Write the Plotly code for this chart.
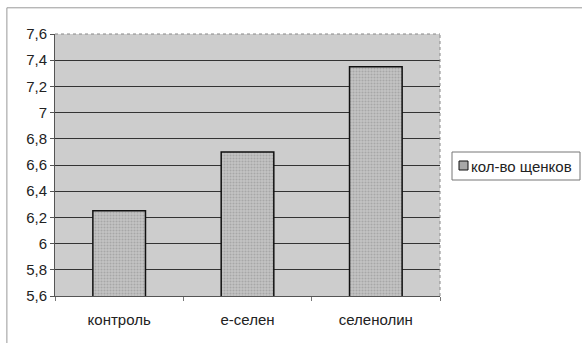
import plotly.graph_objects as go

categories = ["контроль", "е-селен", "селенолин"]
values = [6.25, 6.70, 7.35]
series_name = "кол-во щенков"

fig = go.Figure()
fig.add_trace(go.Bar(
    x=categories, y=values, name=series_name, width=0.41,
    marker=dict(color="#b4b4b4", line=dict(color="#111", width=1.5),
                pattern=dict(shape=".", fgcolor="#8a8a8a", bgcolor="#c4c4c4", size=3, solidity=0.4)),
    showlegend=False,
))

def px_x(px):
    return (px - 55) / 385

def px_y(py):
    return (296 - py) / 262

fig.update_layout(
    width=582, height=343,
    margin=dict(l=55, r=142, t=34, b=47, autoexpand=False),
    paper_bgcolor="white", plot_bgcolor="#cdcdcd",
    separators=", ",
    font=dict(family="Liberation Sans, Arial", size=15, color="#222"),
    bargap=0.59,
    showlegend=False,
    shapes=[
        dict(type="rect", xref="paper", yref="paper", x0=-0.125, x1=1.6,
             y0=-0.3, y1=1.1, line=dict(color="#999", width=1), layer="below"),
        dict(type="rect", xref="paper", yref="paper", x0=px_x(452), x1=px_x(580),
             y0=px_y(180), y1=px_y(152), line=dict(color="#777", width=1), fillcolor="white"),
        dict(type="rect", xref="paper", yref="paper", x0=px_x(459), x1=px_x(468),
             y0=px_y(170), y1=px_y(161), line=dict(color="#111", width=1), fillcolor="#a8a8a8"),
        dict(type="line", xref="paper", yref="paper", x0=1, x1=1, y0=0, y1=1,
             line=dict(color="#888", width=1, dash="dot")),
        dict(type="line", xref="paper", yref="paper", x0=0, x1=1, y0=1, y1=1,
             line=dict(color="#888", width=1, dash="dot")),
    ],
    annotations=[dict(text=series_name, xref="paper", yref="paper", x=px_x(469), y=px_y(166),
                      xanchor="left", yanchor="middle", showarrow=False, font=dict(size=15))],
)
fig.update_yaxes(range=[5.6, 7.6], dtick=0.2, tick0=5.6, showgrid=True, gridcolor="#333",
                 gridwidth=1, showline=True, linecolor="#555", ticks="outside", ticklen=4,
                 tickcolor="#555", zeroline=False)
fig.update_xaxes(showline=True, linecolor="#555", ticks="outside", tickson="boundaries",
                 ticklen=4, tickcolor="#777", mirror=False, ticklabelstandoff=10)
fig.write_html("out.html")
